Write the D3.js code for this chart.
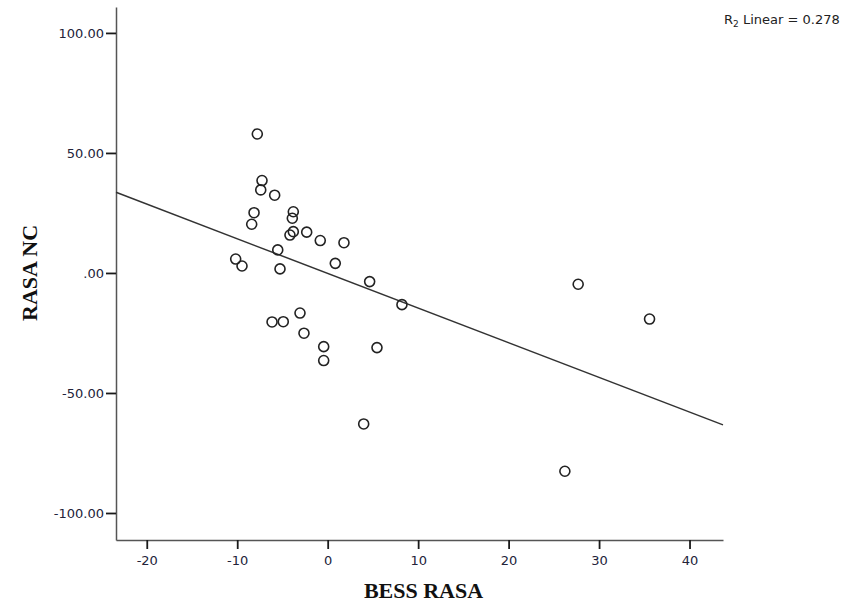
<!DOCTYPE html>
<html>
<head>
<meta charset="utf-8">
<script src="https://cdn.jsdelivr.net/npm/d3@7"></script>
<style>
  html, body { margin: 0; padding: 0; background: #fff; }
  svg { display: block; }
</style>
</head>
<body>
<svg id="chart" width="859" height="605"></svg>
<script>
// ---- data ----
const bessRasa = [
  -7.78, -7.26, -7.40, -5.86, -8.14, -8.40, -3.80, -3.91, -3.80, -4.17,
  -2.32, -0.82, 1.80, -5.52, -10.17, -9.47, -5.27, 0.84, 4.64, 8.21,
  -3.06, -6.15, -4.91, -2.62, -0.44, 5.45, -0.44, 3.98, 27.69, 35.58, 26.22
];
const rasaNC = [
  57.9, 38.5, 34.6, 32.4, 25.1, 20.3, 25.5, 22.8, 17.2, 15.8,
  17.0, 13.5, 12.6, 9.6, 5.8, 2.9, 1.7, 4.0, -3.6, -13.2,
  -16.7, -20.4, -20.3, -25.1, -30.7, -31.1, -36.5, -62.9, -4.7, -19.2, -82.6
];
const xTickValues = [-20, -10, 0, 10, 20, 30, 40];
const xTickLabels = ["-20", "-10", "0", "10", "20", "30", "40"];
const yTickValues = [100, 50, 0, -50, -100];
const yTickLabels = ["100.00", "50.00", ".00", "-50.00", "-100.00"];
const xDomain = [-23.4, 43.7];
const yDomain = [-111.25, 110.8];
const rSquaredText = "0.278";
const xTitle = "BESS RASA";
const yTitle = "RASA NC";

// ---- layout ----
const svg = d3.select("#chart");
const plotLeft = 116, plotRight = 723, plotTop = 7, plotBottom = 540;

const x = d3.scaleLinear().domain(xDomain).range([plotLeft, plotRight]);
const y = d3.scaleLinear().domain(yDomain).range([plotBottom, plotTop]);

const axisColor = "#555";
const textColor = "#23233a";

// x axis
const xAxis = d3.axisBottom(x)
  .tickValues(xTickValues)
  .tickFormat((d, i) => xTickLabels[i])
  .tickSize(9).tickSizeOuter(0).tickPadding(7);
const gx = svg.append("g").attr("transform", `translate(0,${plotBottom})`).call(xAxis);
gx.select(".domain").attr("stroke", axisColor).attr("stroke-width", 1.5);
gx.selectAll(".tick line").attr("stroke", "#1a1a1a").attr("stroke-width", 1.8);
gx.selectAll(".tick text").attr("fill", textColor)
  .style("font-family", "'DejaVu Sans', sans-serif").style("font-size", "13px");

// y axis
const yAxis = d3.axisLeft(y)
  .tickValues(yTickValues)
  .tickFormat((d, i) => yTickLabels[i])
  .tickSize(10).tickSizeOuter(0).tickPadding(2);
const gy = svg.append("g").attr("transform", `translate(${plotLeft},0)`).call(yAxis);
gy.select(".domain").attr("stroke", axisColor).attr("stroke-width", 1.5);
gy.selectAll(".tick line").attr("stroke", "#1a1a1a").attr("stroke-width", 1.8);
gy.selectAll(".tick text").attr("fill", textColor)
  .style("font-family", "'DejaVu Sans', sans-serif").style("font-size", "13px");

// regression (least squares from the data)
const n = bessRasa.length;
const mx = d3.mean(bessRasa), my = d3.mean(rasaNC);
let sxy = 0, sxx = 0;
for (let i = 0; i < n; i++) {
  sxy += (bessRasa[i] - mx) * (rasaNC[i] - my);
  sxx += (bessRasa[i] - mx) ** 2;
}
const slope = sxy / sxx, intercept = my - slope * mx;
const fitPts = xDomain.map(v => [v, intercept + slope * v]);
svg.append("path")
  .attr("d", d3.line().x(d => x(d[0])).y(d => y(d[1]))(fitPts))
  .attr("fill", "none").attr("stroke", "#333").attr("stroke-width", 1.5);

// points
svg.append("g").selectAll("circle")
  .data(bessRasa.map((v, i) => [v, rasaNC[i]]))
  .join("circle")
  .attr("cx", d => x(d[0])).attr("cy", d => y(d[1]))
  .attr("r", 5)
  .attr("fill", "none").attr("stroke", "#222").attr("stroke-width", 1.6);

// R² annotation
const ann = svg.append("text")
  .attr("x", 724).attr("y", 24)
  .attr("fill", "#222")
  .style("font-family", "'DejaVu Sans', sans-serif").style("font-size", "13px");
ann.append("tspan").text("R");
ann.append("tspan").attr("dy", 3).style("font-size", "9px").text("2");
ann.append("tspan").attr("dy", -3).text(" Linear = " + rSquaredText);

// axis titles
svg.append("text")
  .attr("x", (plotLeft + plotRight) / 2 + 4).attr("y", 598)
  .attr("text-anchor", "middle").attr("fill", "#111")
  .style("font-family", "'Liberation Serif', 'Times New Roman', serif")
  .style("font-weight", "bold").style("font-size", "22px")
  .text(xTitle);

svg.append("text")
  .attr("transform", `translate(37,${y(0)}) rotate(-90)`)
  .attr("text-anchor", "middle").attr("fill", "#111")
  .style("font-family", "'Liberation Serif', 'Times New Roman', serif")
  .style("font-weight", "bold").style("font-size", "22px")
  .text(yTitle);
</script>
</body>
</html>
